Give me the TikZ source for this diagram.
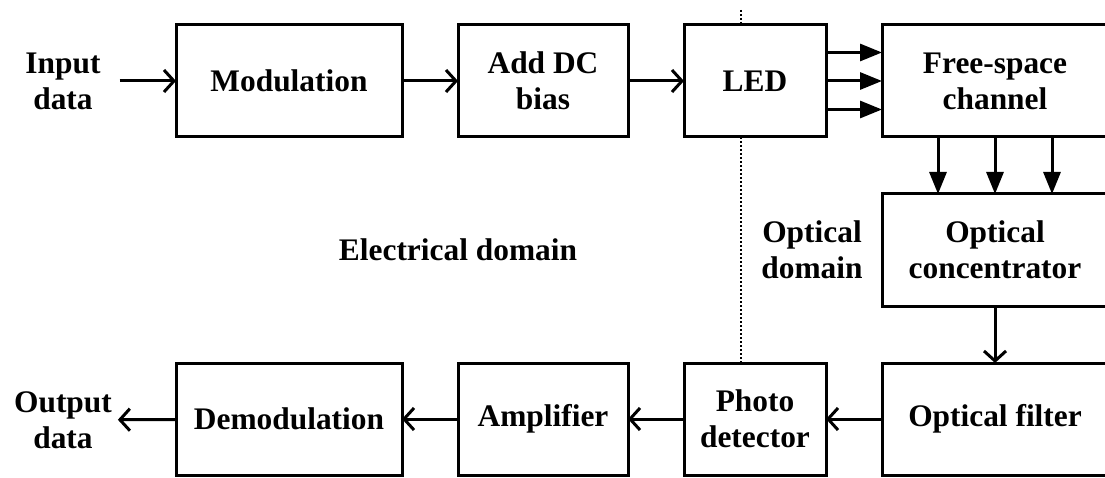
\documentclass[tikz,border=0pt]{standalone}
\usepackage{fontspec}
\setmainfont{Liberation Serif}
\usetikzlibrary{arrows.meta,positioning}

\begin{document}
\begin{tikzpicture}[
    x=1pt, y=-1pt,
    node distance=57pt and 56pt,
    block/.style={rectangle, draw=black, fill=white, line width=3pt, align=center, minimum height=112pt, inner sep=0pt, outer sep=0pt, font=\fontsize{31.4}{36}\selectfont\bfseries},
    wideblock/.style={block, minimum width=226pt},
    midblock/.style={block, minimum width=170pt},
    smallblock/.style={block, minimum width=142pt},
    note/.style={align=center, inner sep=6pt, outer sep=0pt, font=\fontsize{31.4}{36}\selectfont\bfseries},
    arrow/.style={-{Straight Barb[length=10pt,width=22pt]}, line width=3pt},
    beam/.style={-{Triangle[length=22pt,width=17pt]}, line width=3pt},
    divider/.style={line width=1.5pt, dash pattern=on 2pt off 2pt}
]
    \useasboundingbox (0,0) rectangle (1105,478);

    % Sender: electrical to optical
    \node[wideblock] (mod) at (289,81) {Modulation};
    \node[midblock, right=of mod] (bias) {Add DC\\bias};
    \node[smallblock, right=of bias] (led) {LED};
    \node[wideblock, right=of led] (chan) {Free-space\\channel};

    % Receiver: optical to electrical
    \node[wideblock, below=of chan] (conc) {Optical\\concentrator};
    \node[wideblock, below=of conc] (filt) {Optical filter};
    \node[smallblock, left=of filt] (photo) {Photo\\detector};
    \node[midblock, left=of photo] (amp) {Amplifier};
    \node[wideblock, left=of amp] (demod) {Demodulation};

    % Labels
    \node[note] (indata) at (63,81) {Input\\data};
    \node[note] (outdata) at (63,420) {Output\\data};
    \node[note] (elec) at (458,250) {Electrical domain};
    \node[note] (opt) at (812,250) {Optical\\domain};

    % Domain border
    \coordinate (divtop) at (741,10);
    \draw[divider] (divtop) -- (divtop |- led.north);
    \draw[divider] (divtop |- led.south) -- (divtop |- photo.north);

    \draw[arrow] ([xshift=13pt]indata.east) -- (mod);
    \draw[arrow] (mod) -- (bias);
    \draw[arrow] (bias) -- (led);
    \draw[beam] ([yshift=-28.5pt]led.east) -- ([yshift=-28.5pt]chan.west);
    \draw[beam] (led) -- (chan);
    \draw[beam] ([yshift=28.5pt]led.east) -- ([yshift=28.5pt]chan.west);
    \draw[beam] ([xshift=-57pt]chan.south) -- ([xshift=-57pt]conc.north);
    \draw[beam] (chan) -- (conc);
    \draw[beam] ([xshift=57pt]chan.south) -- ([xshift=57pt]conc.north);
    \draw[arrow] (conc) -- (filt);
    \draw[arrow] (filt) -- (photo);
    \draw[arrow] (photo) -- (amp);
    \draw[arrow] (amp) -- (demod);
    \draw[arrow] (demod) -- (outdata);
\end{tikzpicture}
\end{document}
